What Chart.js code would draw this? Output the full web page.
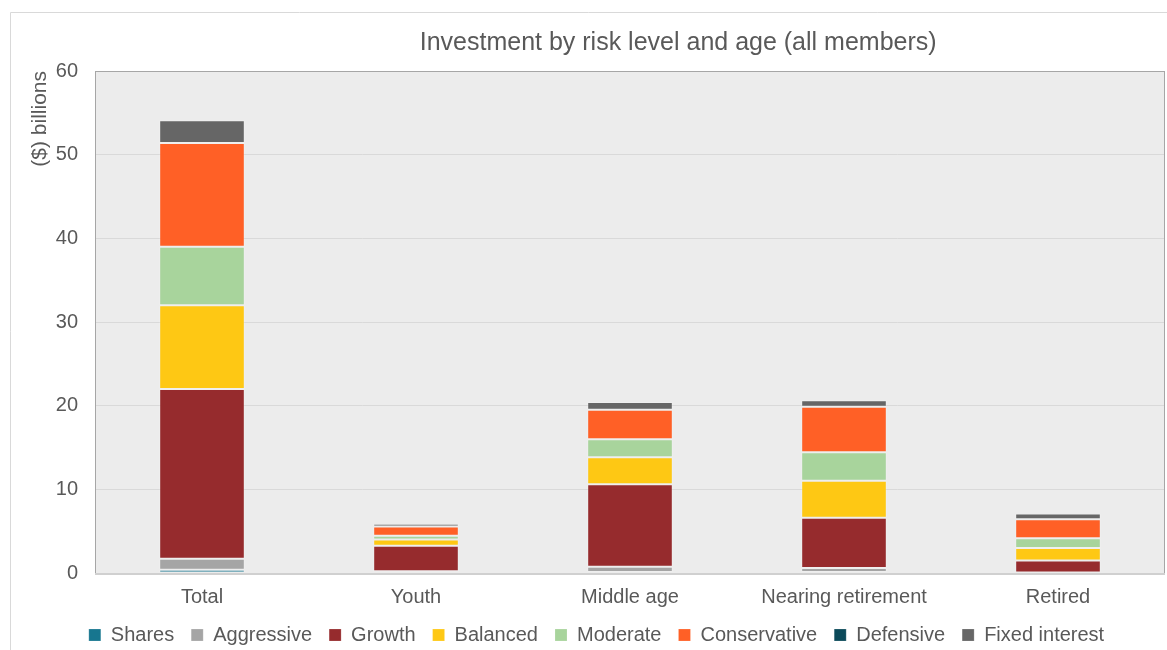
<!DOCTYPE html>
<html>
<head>
<meta charset="utf-8">
<script src="https://cdn.jsdelivr.net/npm/chart.js@4.4.0/dist/chart.umd.min.js"></script>
<style>
html, body { margin: 0; padding: 0; background: #fff; }
#wrap { width: 1167px; height: 650px; position: relative; }
</style>
</head>
<body>
<div id="wrap"><canvas id="chart"></canvas></div>
<script>
var categories = ["Total", "Youth", "Middle age", "Nearing retirement", "Retired"];

// values in $ billions
var shares       = [0.4,  0.05, 0.12, 0.12, 0.02];
var aggressive   = [1.3,  0.15, 0.63, 0.48, 0.03];
var growth       = [20.3, 3.05, 9.85, 6.01, 1.43];
var balanced     = [10.0, 0.75, 3.23, 4.42, 1.52];
var moderate     = [7.0,  0.45, 2.15, 3.39, 1.16];
var conservative = [12.4, 1.1,  3.54, 5.46, 2.27];
var defensive    = [0,    0,    0,    0,    0];
var fixedInterest= [2.7,  0.35, 0.92, 0.76, 0.67];

var yTicks = [0, 10, 20, 30, 40, 50, 60];

var textColor = "#595959";
var fontFamily = "'Liberation Sans', Arial, sans-serif";

function series(label, data, color) {
    return {
        label: label,
        data: data,
        backgroundColor: color,
        borderColor: "rgba(255,255,255,0.18)",
        borderWidth: 1,
        borderSkipped: false,
        categoryPercentage: 1.0,
        barPercentage: 0.4
    };
}

// plot background, frame, outer border and title
var decorPlugin = {
    id: "decor",
    beforeDraw: function (chart) {
        var ctx = chart.ctx, a = chart.chartArea;
        ctx.save();
        ctx.fillStyle = "#ececec";
        ctx.fillRect(a.left, a.top, a.right - a.left, a.bottom - a.top);
        ctx.strokeStyle = "#d9d9d9";
        ctx.lineWidth = 1;
        ctx.beginPath();
        ctx.moveTo(10.5, chart.height);
        ctx.lineTo(10.5, 12.5);
        ctx.lineTo(chart.width, 12.5);
        ctx.stroke();
        ctx.restore();
    },
    afterDatasetsDraw: function (chart) {
        var ctx = chart.ctx, a = chart.chartArea;
        ctx.save();
        ctx.strokeStyle = "#a6a6a6";
        ctx.lineWidth = 1;
        ctx.strokeRect(a.left + 0.5, a.top + 0.5, a.right - a.left - 1, a.bottom - a.top);
        ctx.strokeStyle = "#d0d0d0";
        ctx.lineWidth = 2;
        ctx.beginPath();
        ctx.moveTo(a.left, a.bottom + 1);
        ctx.lineTo(a.right, a.bottom + 1);
        ctx.stroke();
        ctx.fillStyle = textColor;
        ctx.font = "25px " + fontFamily;
        ctx.textAlign = "center";
        ctx.textBaseline = "middle";
        ctx.fillText("Investment by risk level and age (all members)",
            a.left + 0.545 * (a.right - a.left), 43);
        ctx.restore();
    }
};

new Chart(document.getElementById("chart"), {
    type: "bar",
    data: {
        labels: categories,
        datasets: [
            series("Shares", shares, "#17768f"),
            series("Aggressive", aggressive, "#a5a5a5"),
            series("Growth", growth, "#962b2d"),
            series("Balanced", balanced, "#fec814"),
            series("Moderate", moderate, "#a8d49c"),
            series("Conservative", conservative, "#ff6026"),
            series("Defensive", defensive, "#0b4a5a"),
            series("Fixed interest", fixedInterest, "#666666")
        ]
    },
    options: {
        responsive: true,
        maintainAspectRatio: false,
        animation: false,
        layout: { padding: { left: 28, right: 2, top: 71, bottom: -5 } },
        plugins: {
            title: { display: false },
            tooltip: { enabled: false },
            legend: {
                position: "bottom",
                labels: {
                    color: textColor,
                    font: { size: 20, family: fontFamily },
                    boxWidth: 12,
                    boxHeight: 12,
                    padding: 17
                }
            }
        },
        scales: {
            x: {
                stacked: true,
                grid: { display: false, drawTicks: false },
                border: { display: false },
                ticks: {
                    color: textColor,
                    font: { size: 20, family: fontFamily, lineHeight: 1 },
                    padding: 14,
                    maxRotation: 0,
                    autoSkip: false
                },
                afterFit: function (scale) { scale.height = 35; }
            },
            y: {
                stacked: true,
                min: 0,
                max: 60,
                afterBuildTicks: function (scale) {
                    scale.ticks = yTicks.map(function (v) { return { value: v }; });
                },
                grid: { color: "#d9d9d9", drawTicks: false },
                border: { display: false },
                ticks: {
                    color: textColor,
                    font: { size: 20, family: fontFamily },
                    padding: 17
                },
                title: {
                    display: true,
                    text: "($) billions",
                    align: "end",
                    color: textColor,
                    font: { size: 21, family: fontFamily },
                    padding: { top: 0, bottom: 0 }
                },
                afterFit: function (scale) { scale.width = 67; }
            }
        }
    },
    plugins: [decorPlugin]
});
</script>
</body>
</html>
